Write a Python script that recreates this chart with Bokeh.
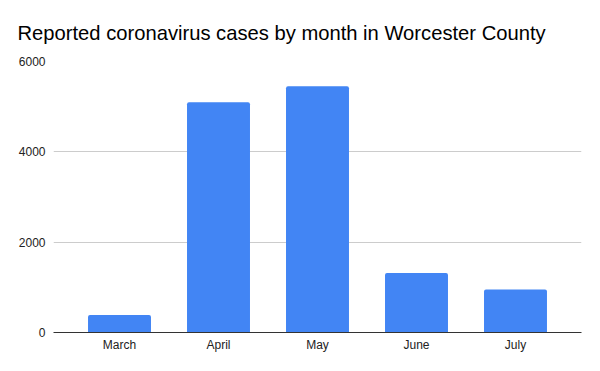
from bokeh.plotting import figure
from bokeh.models import Range1d, FixedTicker, FactorRange
from bokeh.embed import file_html
from bokeh.resources import INLINE

months = ["March", "April", "May", "June", "July"]
cases = [390, 5100, 5450, 1320, 950]
y_ticks = [0, 2000, 4000, 6000]

p = figure(
    x_range=FactorRange(factors=months, range_padding=0.0667),
    y_range=Range1d(0, 6000),
    width=592, height=363,
    output_backend="svg", toolbar_location=None,
    title="Reported coronavirus cases by month in Worcester County",
)
p.min_border_left = 53
p.min_border_right = 11
p.min_border_top = 61
p.min_border_bottom = 31
p.outline_line_color = None

p.vbar(x=months, top=cases, width=0.636, color="#4285F4", line_color=None,
       border_radius=(2, 2, 0, 0))

p.title.text_font = "Liberation Sans"
p.title.text_font_size = "20.2px"
p.title.text_font_style = "normal"
p.title.text_color = "#000000"
p.title.offset = -36
p.title.standoff = 35

p.yaxis.ticker = FixedTicker(ticks=y_ticks)
p.yaxis.axis_line_color = None
p.yaxis.major_tick_line_color = None
p.yaxis.minor_tick_line_color = None
p.yaxis.major_tick_out = 0
p.yaxis.minor_tick_out = 0
p.yaxis.major_label_standoff = 8
p.yaxis.major_label_text_font = "Liberation Sans"
p.yaxis.major_label_text_font_size = "12px"
p.yaxis.major_label_text_color = "#222222"

p.xaxis.axis_line_color = "#333333"
p.xaxis.major_tick_line_color = None
p.xaxis.minor_tick_line_color = None
p.xaxis.major_tick_out = 0
p.xaxis.minor_tick_out = 0
p.xaxis.major_label_standoff = 5
p.xaxis.major_label_text_font = "Liberation Sans"
p.xaxis.major_label_text_font_size = "12px"
p.xaxis.major_label_text_color = "#222222"

p.xgrid.grid_line_color = None
p.ygrid.grid_line_color = "#cccccc"

open("out.html", "w").write(file_html(p, INLINE))
